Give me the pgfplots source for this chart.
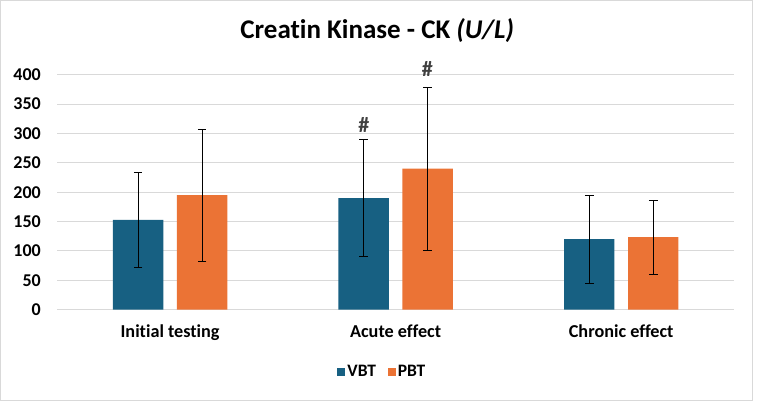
\documentclass[border=0pt]{standalone}
\usepackage{pgfplots}
\pgfplotsset{compat=1.18}
\usepackage{fontspec}
\setmainfont{Carlito}[Ligatures={NoCommon}]
\definecolor{vbt}{RGB}{23,96,130}
\definecolor{pbt}{RGB}{235,115,53}
\definecolor{gridc}{RGB}{217,217,217}
\definecolor{hashc}{RGB}{64,64,64}
\begin{document}
\begin{tikzpicture}
\path[use as bounding box] (-57.3bp,-93.3bp) rectangle (699.7bp,309.7bp);
\draw[gridc, line width=1bp] (-56.3bp,-90.3bp) rectangle (694.7bp,308.7bp);
\begin{axis}[
  at={(0,0)}, anchor=south west,
  scale only axis, clip=false,
  width=676.7bp, height=235bp,
  xmin=-0.5, xmax=2.5,
  ymin=0, ymax=400,
  ytick={0,50,...,400},
  xtick={0,1,2},
  xticklabels={Initial testing, Acute effect, Chronic effect},
  ybar=13.6bp, bar width=50.4bp,
  axis line style={draw=none},
  tick style={draw=none},
  ymajorgrids,
  grid style={gridc, line width=1bp},
  /pgf/number format/assume math mode=true,
  yticklabel style={font=\fontsize{18bp}{20bp}\selectfont\bfseries, xshift=-13bp},
  xticklabel style={font=\fontsize{18.2bp}{20bp}\selectfont\bfseries, yshift=-7bp},
  legend style={at={(0.4804,-0.265)}, anchor=center, draw=none, fill=none,
    legend columns=2, font=\fontsize{17.5bp}{19bp}\selectfont\bfseries},
  legend image code/.code={\fill[#1] (0bp,-4bp) rectangle (8bp,4bp);},
  error bars/error bar style={black, line width=0.8bp},
  error bars/error mark options={rotate=90, black, mark size=4.3bp, line width=0.8bp},
]
\addplot[fill=vbt, draw=none, error bars/.cd, y dir=both, y explicit]
  coordinates {(0,153) +- (0,81) (1,190) +- (0,100) (2,120) +- (0,75)};
\addplot[fill=pbt, draw=none, error bars/.cd, y dir=both, y explicit]
  coordinates {(0,195) +- (0,112) (1,240) +- (0,139) (2,123.5) +- (0,63)};
\legend{VBT\rule{10bp}{0pt}, PBT}
\node[font=\fontsize{22bp}{24bp}\selectfont\bfseries, text=hashc] at (axis cs:0.859,314) {\#};
\node[font=\fontsize{22bp}{24bp}\selectfont\bfseries, text=hashc] at (axis cs:1.141,410) {\#};
\end{axis}
\node[anchor=base, font=\fontsize{27bp}{30bp}\selectfont\bfseries] at (319.9bp,270.7bp) {Creatin Kinase - CK \textit{(U/L)}};
\end{tikzpicture}
\end{document}
